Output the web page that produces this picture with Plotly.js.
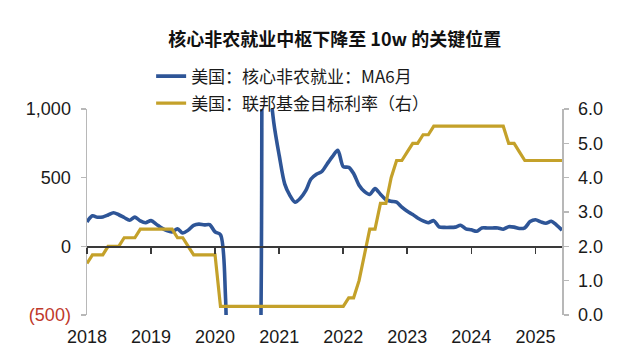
<!DOCTYPE html>
<html>
<head>
<meta charset="utf-8">
<script src="https://cdn.plot.ly/plotly-3.0.1.min.js"></script>
<style>html,body{margin:0;padding:0;background:#fff;}#chart{width:640px;height:361px;}</style>
</head>
<body>
<div id="chart"></div>
<script>
// Monthly positions starting Jan 2018 (90 months, through Jun 2025)
const startYear = 2018;
const nMonths = 90;
const months = [];
for (let i = 0; i < nMonths; i++) {
  const y = startYear + Math.floor(i / 12);
  const m = (i % 12) + 1;
  months.push(y + '-' + (m < 10 ? '0' + m : m) + '-01');
}

// 美国：核心非农就业：MA6月 (thousands)
const coreNfpMA6 = [
  178, 222, 212, 214, 228, 245, 230, 210, 190, 213, 185, 172,
  187, 160, 135, 114, 105, 127, 97, 118, 152, 162, 156, 158,
  105, 85, -380, -3000, -2600, -2100, -1900, -1600, -1450, 2000, 1300, 900,
  660, 455, 375, 322, 350, 405, 490, 525, 545, 600, 655, 700,
  580, 575, 530, 445, 400, 378, 420, 380, 340, 328, 322, 285,
  255, 232, 207, 185, 172, 187, 142, 138, 138, 140, 153, 127,
  120, 110, 134, 134, 134, 134, 125, 143, 140, 130, 135, 180,
  194, 178, 168, 182, 155, 118
];

// 美国：联邦基金目标利率（右）(%)
const fedTarget = [
  1.5, 1.75, 1.75, 1.75, 2.0, 2.0, 2.0, 2.25, 2.25, 2.25, 2.5, 2.5,
  2.5, 2.5, 2.5, 2.5, 2.5, 2.25, 2.25, 2.0, 1.75, 1.75, 1.75, 1.75,
  1.75, 0.25, 0.25, 0.25, 0.25, 0.25, 0.25, 0.25, 0.25, 0.25, 0.25, 0.25,
  0.25, 0.25, 0.25, 0.25, 0.25, 0.25, 0.25, 0.25, 0.25, 0.25, 0.25, 0.25,
  0.25, 0.5, 0.5, 1.0, 1.75, 2.5, 2.5, 3.25, 3.25, 4.0, 4.5, 4.5,
  4.75, 5.0, 5.0, 5.25, 5.25, 5.5, 5.5, 5.5, 5.5, 5.5, 5.5, 5.5,
  5.5, 5.5, 5.5, 5.5, 5.5, 5.5, 5.5, 5.0, 5.0, 4.75, 4.5, 4.5,
  4.5, 4.5, 4.5, 4.5, 4.5, 4.5
];

const yearTickVals = ['2018-01-01','2019-01-01','2020-01-01','2021-01-01','2022-01-01','2023-01-01','2024-01-01','2025-01-01'];
const yearTickText = ['2018','2019','2020','2021','2022','2023','2024','2025'];
const leftTickVals = [-500, 0, 500, 1000];
const leftTickText = ['<span style="color:#C0392B">(500)</span>', '0', '500', '1,000'];
const rightTickVals = [0, 1, 2, 3, 4, 5, 6];
const rightTickText = ['0.0', '1.0', '2.0', '3.0', '4.0', '5.0', '6.0'];

const seriesNames = ['美国：核心非农就业：MA6月', '美国：联邦基金目标利率（右）'];
const xRange = ['2018-01-01', '2025-06-01'];

const numFont = {family: 'Liberation Sans, Arial, sans-serif', size: 18, color: '#1a1a1a'};
const cjkFont = 'Noto Sans CJK SC, sans-serif';

const traces = [
  {
    x: months, y: coreNfpMA6, name: seriesNames[0], type: 'scatter', mode: 'lines',
    line: {color: '#2E5597', width: 3.6, shape: 'spline', smoothing: 0.8},
    xaxis: 'x', yaxis: 'y', legendgroup: 'a', hoverinfo: 'skip'
  },
  {
    x: months, y: fedTarget, name: seriesNames[1], type: 'scatter', mode: 'lines',
    line: {color: '#C4A12A', width: 3.2},
    xaxis: 'x', yaxis: 'y2', legendgroup: 'b', hoverinfo: 'skip'
  },
  {
    x: [], y: [], xaxis: 'x2', yaxis: 'y', showlegend: false, hoverinfo: 'skip', mode: 'lines'
  }
];

const layout = {
  width: 640, height: 361,
  margin: {l: 87, r: 78, t: 109, b: 46, pad: 0},
  paper_bgcolor: '#ffffff', plot_bgcolor: '#ffffff',
  showlegend: true,
  title: {
    text: '核心非农就业中枢下降至 10w 的关键位置',
    font: {family: cjkFont, size: 18, color: '#111111', weight: 'bold'},
    x: 0.523, xref: 'container', xanchor: 'center',
    y: 0.889, yref: 'container', yanchor: 'middle'
  },
  legend: {
    x: 0.135, xanchor: 'left', y: 1.245, yanchor: 'top',
    orientation: 'v', traceorder: 'grouped', tracegroupgap: 2,
    font: {family: cjkFont, size: 17, color: '#1a1a1a'},
    bgcolor: 'rgba(0,0,0,0)', borderwidth: 0
  },
  xaxis: {
    type: 'date', range: xRange,
    tickmode: 'array', tickvals: yearTickVals, ticktext: yearTickText,
    showline: false, showgrid: false, zeroline: false,
    ticks: 'outside', ticklen: 5, tickcolor: 'rgba(0,0,0,0)',
    tickfont: numFont
  },
  xaxis2: {
    type: 'date', range: xRange, overlaying: 'x', anchor: 'free', position: 1/3, side: 'bottom',
    tickmode: 'array', tickvals: yearTickVals, showticklabels: false,
    showline: true, linecolor: '#3a3a3a', linewidth: 1.6,
    ticks: 'outside', ticklen: 6, tickwidth: 1.6, tickcolor: '#3a3a3a',
    showgrid: false, zeroline: false
  },
  yaxis: {
    range: [-500, 1000],
    tickmode: 'array', tickvals: leftTickVals, ticktext: leftTickText,
    showline: true, linecolor: '#b8b8b8', linewidth: 1.5,
    ticks: 'outside', ticklen: 5, tickcolor: '#b8b8b8', tickwidth: 1.5,
    showgrid: false, zeroline: false, tickfont: numFont, ticklabelstandoff: 6
  },
  yaxis2: {
    range: [0, 6], overlaying: 'y', side: 'right', anchor: 'x',
    tickmode: 'array', tickvals: rightTickVals, ticktext: rightTickText,
    showline: true, linecolor: '#b8b8b8', linewidth: 1.5,
    ticks: 'outside', ticklen: 5, tickcolor: '#b8b8b8', tickwidth: 1.5,
    showgrid: false, zeroline: false, tickfont: numFont, ticklabelstandoff: 6
  }
};

Plotly.newPlot('chart', traces, layout, {staticPlot: true, displayModeBar: false});
</script>
</body>
</html>
